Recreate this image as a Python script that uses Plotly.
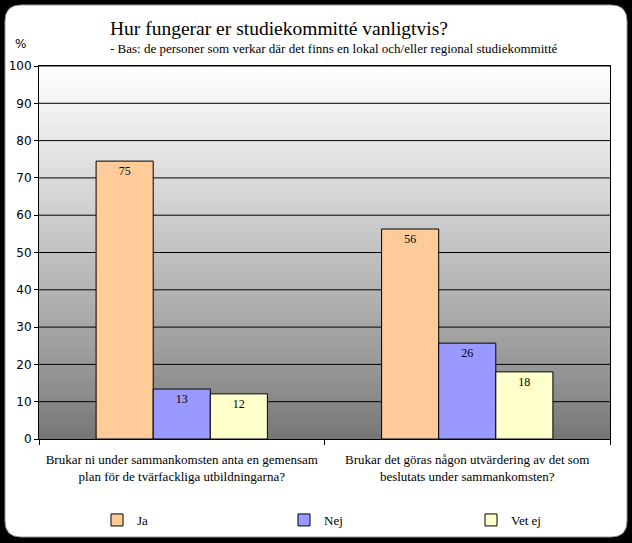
import plotly.graph_objects as go

categories = [
    "Brukar ni under sammankomsten anta en gemensam<br>plan för de tvärfackliga utbildningarna?",
    "Brukar det göras någon utvärdering av det som<br>beslutats under sammankomsten?",
]
ja = [74.5, 56.3]
nej = [13.4, 25.7]
vet_ej = [12.1, 18.0]
series_names = ["Ja", "Nej", "Vet ej"]
series_colors = ["#FFCC99", "#9999FF", "#FFFFCC"]
y_ticks = list(range(0, 101, 10))

W, H = 632, 543
ML, MR, MT, MB = 39, 22, 66, 104
PW, PH = W - ML - MR, H - MT - MB

def px_x(x):
    return (x - ML) / PW

def px_y(y):
    return (H - MB - y) / PH

fig = go.Figure()
for name, vals, col in zip(series_names, [ja, nej, vet_ej], series_colors):
    fig.add_trace(go.Bar(
        x=categories, y=vals, name=name,
        marker=dict(color=col, line=dict(color="black", width=1)),
        texttemplate="%{y:.0f}", textposition="inside", insidetextanchor="end",
        textfont=dict(family="Liberation Serif", size=12, color="black"),
        textangle=0,
    ))

shapes = []
# white rounded panel
x0, x1, y0, y1, r = 5, 627, 5, 537, 16
def P(x, y):
    return f"{px_x(x):.5f},{px_y(y):.5f}"
path = (f"M {P(x0+r, y0)} L {P(x1-r, y0)} Q {P(x1, y0)} {P(x1, y0+r)} "
        f"L {P(x1, y1-r)} Q {P(x1, y1)} {P(x1-r, y1)} "
        f"L {P(x0+r, y1)} Q {P(x0, y1)} {P(x0, y1-r)} "
        f"L {P(x0, y0+r)} Q {P(x0, y0)} {P(x0+r, y0)} Z")
shapes.append(dict(type="path", xref="paper", yref="paper", path=path,
                   fillcolor="white", line=dict(color="#999999", width=1), layer="below"))
# gradient background
N = 80
for i in range(N):
    t = (i + 0.5) / N
    v = int(round(116 + 139 * t ** 0.85))
    shapes.append(dict(type="rect", xref="paper", yref="paper",
                       x0=0, x1=1, y0=i / N, y1=(i + 1) / N + 0.002,
                       fillcolor=f"rgb({v},{v},{v})", line=dict(width=0), layer="below"))
# gridlines (behind bars)
for v in y_ticks[1:]:
    shapes.append(dict(type="line", xref="paper", yref="y", x0=0, x1=1, y0=v, y1=v,
                       line=dict(color="black", width=1), layer="below"))

fig.update_layout(
    width=W, height=H,
    margin=dict(l=ML, r=MR, t=MT, b=MB, autoexpand=False),
    paper_bgcolor="black", plot_bgcolor="rgba(0,0,0,0)",
    barmode="group", bargap=0.4, bargroupgap=0,
    shapes=shapes,
    showlegend=True,
    legend=dict(orientation="h", x=px_x(97), xanchor="left", y=px_y(520), yanchor="middle",
                font=dict(family="Liberation Serif", size=13, color="black"),
                entrywidth=142, bgcolor="rgba(0,0,0,0)", traceorder="normal",
                itemwidth=30),
    xaxis=dict(showline=True, linecolor="black", linewidth=1, mirror=True,
               ticks="outside", ticklen=5, tickcolor="black", tickson="boundaries",
               tickfont=dict(family="Liberation Serif", size=13, color="black"),
               ticklabelstandoff=8, showgrid=False),
    yaxis=dict(range=[0, 100], tickvals=y_ticks, showline=True, linecolor="black", linewidth=1,
               mirror=True, ticks="outside", ticklen=4, tickcolor="black",
               showgrid=False,
               tickfont=dict(family="DejaVu Sans", size=12, color="black"), zeroline=False),
    annotations=[
        dict(text="Hur fungerar er studiekommitté vanligtvis?", xref="paper", yref="paper",
             x=px_x(108), y=px_y(29), xanchor="left", yanchor="middle", showarrow=False,
             font=dict(family="Liberation Serif", size=19.5, color="black")),
        dict(text="- Bas: de personer som verkar där det finns en lokal och/eller regional studiekommitté",
             xref="paper", yref="paper", x=px_x(108), y=px_y(49), xanchor="left", yanchor="middle",
             showarrow=False, font=dict(family="Liberation Serif", size=13, color="black")),
        dict(text="%", xref="paper", yref="paper", x=px_x(13), y=px_y(44), xanchor="left",
             yanchor="middle", showarrow=False,
             font=dict(family="DejaVu Sans", size=12, color="black")),
    ],
)
fig.write_html("out.html", config={"displayModeBar": False},
               post_script="document.body.style.margin='0';")
